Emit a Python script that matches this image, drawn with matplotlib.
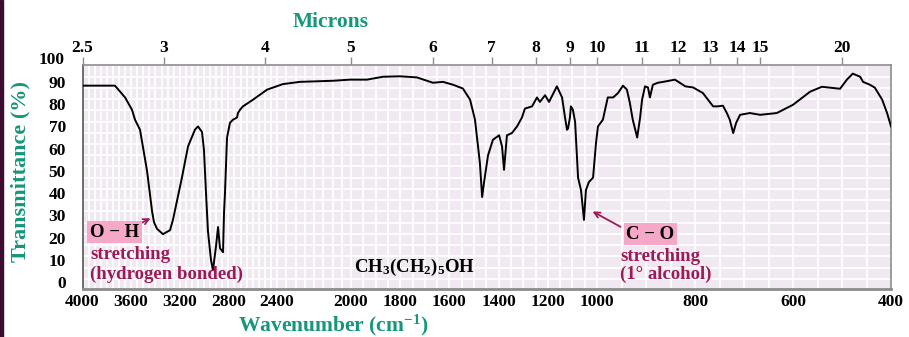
import matplotlib
matplotlib.use('Agg')
import matplotlib.pyplot as plt
import numpy as np
from matplotlib.patches import Rectangle

plt.rcParams['font.family'] = ['Liberation Serif', 'DejaVu Serif']
plt.rcParams['font.weight'] = 'bold'
plt.rcParams['mathtext.fontset'] = 'custom'
plt.rcParams['mathtext.rm'] = 'Liberation Serif:bold'
plt.rcParams['mathtext.bf'] = 'Liberation Serif:bold'
plt.rcParams['mathtext.it'] = 'Liberation Serif:bold'

# spectrum of 1-hexanol
wavenumber = [4000, 3733, 3650, 3593, 3568, 3527, 3469, 3428, 3412, 3387, 3338, 3280,
              3256, 3182, 3132, 3075, 3050, 3017, 3001, 2984, 2968, 2943, 2927, 2902,
              2885, 2869, 2844, 2836, 2828, 2811, 2787, 2762, 2729, 2721, 2704, 2680,
              2597, 2482, 2368, 2276, 2097, 2005, 1935, 1870, 1801, 1732, 1667, 1626,
              1585, 1545, 1516, 1496, 1476, 1467, 1459, 1443, 1423, 1398, 1386, 1378,
              1366, 1346, 1325, 1305, 1293, 1264, 1244, 1232, 1211, 1195, 1163, 1142,
              1130, 1122, 1118, 1110, 1106, 1098, 1089, 1077, 1065, 1057, 1053, 1045,
              1033, 1016, 1004, 998, 988, 978, 967, 957, 947, 939, 933, 927, 918, 912,
              908, 902, 896, 892, 886, 876, 865, 841, 831, 820, 804, 784, 763, 753, 743,
              735, 729, 722, 716, 708, 688, 667, 633, 600, 565, 541, 504, 490, 478, 463,
              457, 443, 433, 418, 408, 400]
transmittance = [88.3, 88.3, 83, 77.5, 73, 68.5, 50, 32, 27, 24, 21.6, 23.4,
                 28, 47, 61, 68.5, 70, 67.5, 59.5, 40, 23, 10, 5.4, 16,
                 24.8, 15.3, 13.5, 31, 40, 65, 71.6, 73, 74, 76, 77.5, 79,
                 82, 86.5, 89, 90, 90.5, 91, 91, 92.3, 92.5, 92, 89.6, 90,
                 88.7, 87, 82, 73, 53.6, 38.3, 45, 57, 64, 66, 61, 50.5,
                 66, 67, 70, 74, 78, 79, 83, 81, 84, 81, 88, 83,
                 74, 68.5, 69, 74, 79, 77.5, 72, 47, 41.4, 32.4, 28, 41.4,
                 45, 47, 62.6, 70, 73, 83, 83, 85, 88.3, 86.5, 80.6, 73, 65, 74,
                 82, 88, 87.5, 83, 88.7, 89.6, 90, 91, 89.6, 88, 87.5, 85, 79, 79, 79.3,
                 76, 73, 67, 71.6, 75.2, 76, 75.2, 76, 79.7, 85.6, 87.8, 86.9, 91, 93.7, 92.3,
                 90, 88.7, 87.4, 82, 76, 70]

wn_ticks = [4000, 3600, 3200, 2800, 2400, 2000, 1800, 1600, 1400, 1200, 1000, 800, 600, 400]
t_ticks = [0, 10, 20, 30, 40, 50, 60, 70, 80, 90]
microns = [2.5, 3, 4, 5, 6, 7, 8, 9, 10, 11, 12, 13, 14, 15, 20]

TEAL = '#15977b'
MAROON = '#9b1a57'
PINK = '#f6a8c8'

# chart paper has a piecewise linear wavenumber axis
KNOT_WN = [400, 1000, 2000, 2400, 4000]
KNOT_POS = [-891, -597, -351, -277, -82.5]


def fwd(w):
    return np.interp(w, KNOT_WN, KNOT_POS)


def inv(p):
    return np.interp(p, KNOT_POS, KNOT_WN)


W, H = 909, 337
fig = plt.figure(figsize=(W / 100, H / 100), dpi=100)
fig.patches.append(Rectangle((0, 0), 3 / W, 1, transform=fig.transFigure,
                             color='#3d0d30', zorder=5))

ax = fig.add_axes([82.5 / W, 1 - 288.5 / H, (891 - 82.5) / W, (288.5 - 64.5) / H])
ax.set_facecolor('#f1e9f1')
ax.set_xscale('function', functions=(fwd, inv))
ax.set_xlim(4000, 400)
ax.set_ylim(-2.8, 97.8)

ax.set_xticks(wn_ticks)
ax.set_xticklabels([str(v) for v in wn_ticks])
ax.set_xticks(np.arange(450, 4000, 50), minor=True)
ax.set_yticks(t_ticks)
ax.set_yticks(np.arange(1.5, 98, 5.05), minor=True)
ax.grid(which='both', axis='x', color='white', lw=1.3)
ax.grid(which='minor', axis='y', color='white', lw=1.3)
ax.set_axisbelow(True)
ax.tick_params(which='both', length=0)
ax.tick_params(axis='x', labelsize=12.5, pad=4)
ax.tick_params(axis='y', labelsize=12.5, pad=12)
fig.text(65 / W, 1 - 60 / H, '100', ha='right', va='center', fontsize=12.5)

for s in ax.spines.values():
    s.set_color('#8c8c8c')
    s.set_linewidth(1.2)
ax.spines['bottom'].set_linewidth(2)
ax.spines['left'].set_color('#555555')

ax.plot(wavenumber, transmittance, color='black', lw=1.4, zorder=3)

# top micron axis
ax2 = ax.twiny()
ax2.set_xscale('function', functions=(fwd, inv))
ax2.set_xlim(4000, 400)
ax2.set_xticks([10000 / m for m in microns])
ax2.set_xticklabels([str(m) for m in microns])
ax2.tick_params(axis='x', direction='out', length=5, width=1, color='#8c8c8c',
                labelsize=12.5, pad=1)
for s in ax2.spines.values():
    s.set_visible(False)

fig.text(331 / W, 1 - 22 / H, 'Microns', color=TEAL, fontsize=15.5,
         ha='center', va='center')
fig.text(333 / W, 1 - 325 / H, r'Wavenumber (cm$^{\mathregular{-1}}$)', color=TEAL,
         fontsize=15.5, ha='center', va='center')
fig.text(20 / W, 1 - 172 / H, 'Transmittance (%)', color=TEAL, fontsize=16,
         rotation=90, ha='center', va='center')

# band annotations
ax.text(3938, 22.5, 'O \u2212 H', fontsize=13.5, va='center', ha='left', zorder=4,
        bbox=dict(boxstyle='square,pad=0.15', fc=PINK, ec='none'))
ax.text(3938, 12.6, 'stretching', color=MAROON, fontsize=13.5, va='center', ha='left')
ax.text(3938, 3.6, '(hydrogen bonded)', color=MAROON, fontsize=13.5, va='center', ha='left')
ax.annotate('', xy=(3420, 29.3), xytext=(3552, 25.7),
            arrowprops=dict(arrowstyle='->', color=MAROON, lw=1.3))

ax.text(940, 21.6, 'C \u2212 O', fontsize=13.5, va='center', ha='left', zorder=4,
        bbox=dict(boxstyle='square,pad=0.15', fc=PINK, ec='none'))
ax.text(953, 11.7, 'stretching', color=MAROON, fontsize=13.5, va='center', ha='left')
ax.text(953, 3.6, '(1\u00b0 alcohol)', color=MAROON, fontsize=13.5, va='center', ha='left')
ax.annotate('', xy=(1028, 32.4), xytext=(947, 24.3),
            arrowprops=dict(arrowstyle='->', color=MAROON, lw=1.3))

ax.text(1740, 6.8, r'CH$_3$(CH$_2$)$_5$OH', fontsize=13.5, va='center', ha='center')

fig.savefig('out.png', dpi=100)
